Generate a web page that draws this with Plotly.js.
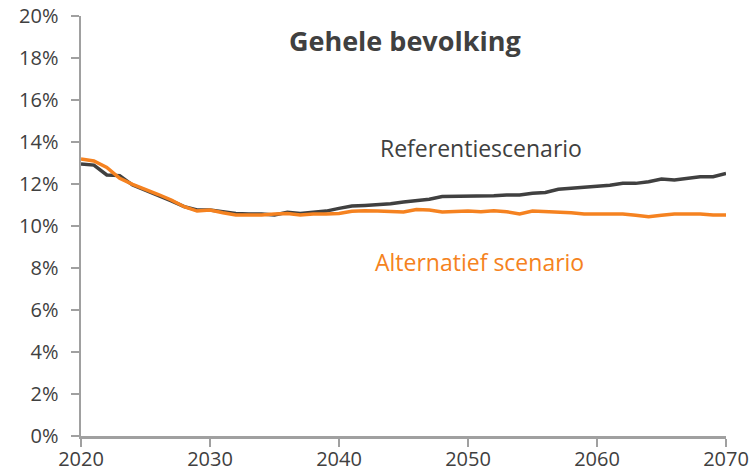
<!DOCTYPE html>
<html><head><meta charset="utf-8">
<script src="https://cdn.plot.ly/plotly-3.0.1.min.js"></script>
<style>html,body{margin:0;padding:0;background:#fff}#chart{width:753px;height:471px}</style>
</head><body><div id="chart"></div>
<script>
const years = [];
for (let y = 2020; y <= 2070; y++) years.push(y);
const referentie = [12.95,12.9,12.43,12.4,11.95,11.71,11.48,11.2,10.92,10.76,10.76,10.68,10.6,10.57,10.57,10.52,10.65,10.6,10.65,10.71,10.84,10.95,10.98,11.0,11.06,11.14,11.2,11.27,11.4,11.4,11.4,11.44,11.44,11.48,11.48,11.56,11.6,11.75,11.79,11.84,11.87,11.94,12.03,12.03,12.11,12.24,12.19,12.27,12.35,12.35,12.5];
const alternatief = [13.19,13.1,12.79,12.27,11.98,11.76,11.5,11.24,10.92,10.71,10.76,10.63,10.52,10.52,10.52,10.57,10.6,10.52,10.57,10.57,10.6,10.7,10.73,10.71,10.68,10.67,10.79,10.76,10.67,10.71,10.71,10.68,10.73,10.68,10.57,10.71,10.68,10.68,10.63,10.57,10.57,10.6,10.57,10.51,10.44,10.51,10.57,10.57,10.57,10.52,10.52];
const yTicks = [0,2,4,6,8,10,12,14,16,18,20];
const xTicks = [2020,2030,2040,2050,2060,2070];
const font = '"Open Sans", "DejaVu Sans", sans-serif';
const traces = [
  {x: years, y: referentie, type: 'scatter', mode: 'lines', line: {color: '#404040', width: 3.5}, name: 'Referentiescenario'},
  {x: years, y: alternatief, type: 'scatter', mode: 'lines', line: {color: '#F58220', width: 3.5}, name: 'Alternatief scenario'}
];
const layout = {
  width: 753, height: 471,
  margin: {l: 81, r: 27, t: 16, b: 35},
  paper_bgcolor: '#fff', plot_bgcolor: '#fff',
  showlegend: false,
  font: {family: font, color: '#404040', size: 20},
  title: {text: '<b>Gehele bevolking</b>', font: {family: font, size: 27, color: '#404040'}, xref: 'paper', x: 0.502, xanchor: 'center', y: 0.911, yanchor: 'middle'},
  xaxis: {range: [2020, 2070], tickvals: xTicks, ticktext: xTicks.map(String), showgrid: false, zeroline: false,
    showline: true, linecolor: '#A0A0A0', linewidth: 2.5, ticks: 'outside', ticklen: 8, tickwidth: 2.5, tickcolor: '#A0A0A0',
    ticklabelstandoff: -5,
    tickfont: {family: font, size: 20, color: '#404040'}, fixedrange: true},
  yaxis: {range: [0, 20], tickvals: yTicks, ticktext: yTicks.map(v => v + '%'), showgrid: false, zeroline: false,
    showline: true, linecolor: '#A0A0A0', linewidth: 2.5, ticks: 'outside', ticklen: 8, tickwidth: 2.5, tickcolor: '#A0A0A0',
    ticklabelstandoff: 8,
    tickfont: {family: font, size: 20, color: '#404040'}, fixedrange: true},
  annotations: [
    {x: 2051.0, y: 13.7, xref: 'x', yref: 'y', text: 'Referentiescenario', showarrow: false, font: {family: font, size: 23, color: '#404040'}},
    {x: 2050.9, y: 8.3, xref: 'x', yref: 'y', text: 'Alternatief scenario', showarrow: false, font: {family: font, size: 23, color: '#F58220'}}
  ]
};
Plotly.newPlot('chart', traces, layout, {displayModeBar: false, staticPlot: true});
</script></body></html>
